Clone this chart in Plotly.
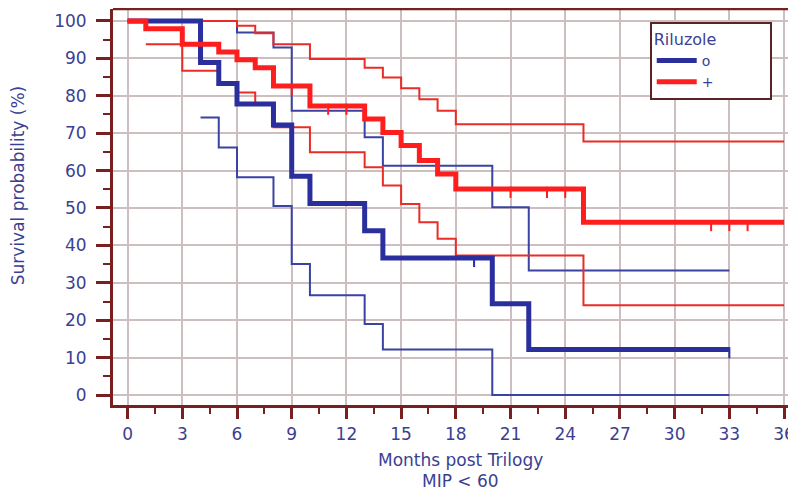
import plotly.graph_objects as go

# ---------------- data ----------------
# Riluzole "o" (blue): Kaplan-Meier estimate and 95% CI bounds
blue_km_t = [0, 4, 5, 6, 8, 9, 10, 13, 14, 20, 22]
blue_km_s = [100, 88.9, 83.3, 77.8, 72.2, 58.5, 51.2, 43.9, 36.6, 24.4, 12.2]
blue_hi_t = [0, 6, 8, 9, 13, 14, 20, 22]
blue_hi_s = [100, 96.9, 92.9, 76.0, 68.9, 61.3, 50.2, 33.3]
blue_lo_t = [4, 5, 6, 8, 9, 10, 13, 14, 20]
blue_lo_s = [74.2, 66.2, 58.2, 50.5, 35.0, 26.7, 19.0, 12.2, 0.0]
blue_end = 33
blue_cens_t = [19, 33]
blue_cens_s = [36.6, 12.2]

# Riluzole "+" (red)
red_km_t = [0, 1, 3, 5, 6, 7, 8, 10, 13, 14, 15, 16, 17, 18, 25]
red_km_s = [100, 97.9, 93.8, 91.7, 89.6, 87.5, 82.6, 77.3, 73.8, 70.2, 66.7, 62.7, 59.1, 55.1, 46.2]
red_hi_t = [0, 6, 7, 8, 10, 13, 14, 15, 16, 17, 18, 25]
red_hi_s = [100, 98.7, 96.7, 93.8, 89.8, 87.5, 84.9, 82.0, 79.1, 76.0, 72.4, 67.8]
red_lo_t = [1, 3, 5, 6, 7, 8, 10, 13, 14, 15, 16, 17, 18, 25]
red_lo_s = [93.8, 86.7, 83.1, 80.9, 77.8, 71.6, 64.9, 60.9, 56.0, 51.1, 46.2, 41.8, 37.3, 24.0]
red_end = 36
red_cens_t = [9, 11, 12, 21, 23, 24, 32, 33, 34]
red_cens_s = [82.6, 77.3, 77.3, 55.1, 55.1, 55.1, 46.2, 46.2, 46.2]

x_ticks = list(range(0, 37, 3))
y_ticks = list(range(0, 101, 10))
legend_title = "Riluzole"
group_names = ["o", "+"]
x_title_1 = "Months post Trilogy"
x_title_2 = "MIP < 60"
y_title = "Survival probability (%)"

# ---------------- styling ----------------
BLUE = "#2b2f9e"
BLUE_THIN = "#3a42a2"
RED = "#ff1e1e"
RED_THIN = "#ea2c26"
MAROON = "#7a1f1f"
GRID = "#cdbfbf"
TXT = "#3b3f92"
FONT = "DejaVu Sans, Arial, sans-serif"
CENS_DROP = 0.9  # censor ticks hang just below the curve


def step(t, s, end):
    return list(t) + [end], list(s) + [s[-1]]


fig = go.Figure()


def add_curve(t, s, end, color, width):
    x, y = step(t, s, end)
    fig.add_trace(go.Scatter(x=x, y=y, mode="lines", line=dict(color=color, width=width, shape="hv"),
                             showlegend=False, hoverinfo="skip"))


def add_censor(t, s, color):
    fig.add_trace(go.Scatter(x=t, y=[v - CENS_DROP for v in s], mode="markers",
                             marker=dict(symbol="line-ns", size=8, line=dict(color=color, width=2)),
                             showlegend=False, hoverinfo="skip"))


add_curve(blue_hi_t, blue_hi_s, blue_end, BLUE_THIN, 2)
add_curve(blue_lo_t, blue_lo_s, blue_end, BLUE_THIN, 2)
add_curve(red_hi_t, red_hi_s, red_end, RED_THIN, 2)
add_curve(red_lo_t, red_lo_s, red_end, RED_THIN, 2)
add_censor(blue_cens_t, blue_cens_s, BLUE)
add_censor(red_cens_t, red_cens_s, RED)
add_curve(blue_km_t, blue_km_s, blue_end, BLUE, 5)
add_curve(red_km_t, red_km_s, red_end, RED, 5)

# legend-only entries
fig.add_trace(go.Scatter(x=[None], y=[None], mode="lines", line=dict(color=BLUE, width=5),
                         name=group_names[0]))
fig.add_trace(go.Scatter(x=[None], y=[None], mode="lines", line=dict(color=RED, width=5),
                         name=group_names[1]))

fig.update_layout(
    width=788, height=484,
    margin=dict(l=105, r=1, t=1, b=87),
    paper_bgcolor="white", plot_bgcolor="white",
    font=dict(family=FONT, size=16, color=TXT),
    showlegend=True,
    legend=dict(
        title=dict(text=legend_title + "\u00a0" * 10, font=dict(size=16, color=TXT)),
        x=0.787, y=0.967, xanchor="left", yanchor="top",
        bgcolor="white", bordercolor="#5a2424", borderwidth=2,
        font=dict(size=14, color=TXT), itemwidth=40, tracegroupgap=0,
    ),
    xaxis=dict(
        range=[-0.8, 36.6], tickvals=x_ticks, ticktext=[str(v) for v in x_ticks],
        showgrid=True, gridcolor=GRID, gridwidth=1.5,
        showline=True, linecolor=MAROON, linewidth=3,
        ticks="outside", ticklen=11, tickwidth=3, tickcolor=MAROON,
        ticklabelstandoff=1, zeroline=False,
        tickfont=dict(size=17, color=TXT),
        minor=dict(dtick=1.5, tick0=0, ticks="outside", ticklen=6, tickwidth=2,
                   tickcolor=MAROON, showgrid=False),
    ),
    yaxis=dict(
        range=[-2.67, 103.2], tickvals=y_ticks, ticktext=[str(v) for v in y_ticks],
        showgrid=True, gridcolor=GRID, gridwidth=1.5,
        showline=True, linecolor=MAROON, linewidth=3,
        ticks="outside", ticklen=14, tickwidth=3, tickcolor=MAROON,
        ticklabelstandoff=6, zeroline=False,
        tickfont=dict(size=17, color=TXT),
        minor=dict(dtick=5, tick0=0, ticks="outside", ticklen=7, tickwidth=2,
                   tickcolor=MAROON, showgrid=False),
    ),
    shapes=[dict(type="line", xref="paper", yref="paper", x0=0, x1=1, y0=1, y1=1,
                 line=dict(color=MAROON, width=2.5))],
    annotations=[
        dict(text=y_title, xref="paper", yref="paper",
             x=-0.139, y=0.553, textangle=-90, showarrow=False,
             font=dict(size=17, color=TXT), xanchor="center", yanchor="middle"),
        dict(text=x_title_1, xref="paper", yref="paper",
             x=0.509, y=-0.1389, showarrow=False,
             font=dict(size=17, color=TXT), xanchor="center", yanchor="middle"),
        dict(text=x_title_2, xref="paper", yref="paper",
             x=0.509, y=-0.1919, showarrow=False,
             font=dict(size=17, color=TXT), xanchor="center", yanchor="middle"),
    ],
)

fig.write_html("out.html")
